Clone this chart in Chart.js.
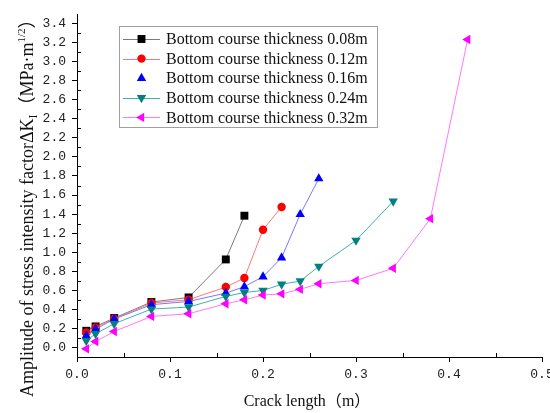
<!DOCTYPE html>
<html><head><meta charset="utf-8">
<script src="https://cdn.jsdelivr.net/npm/chart.js@4/dist/chart.umd.min.js"></script>
<style>html,body{margin:0;padding:0;background:#fff;}</style>
</head><body>
<canvas id="c" width="550" height="413" style="display:block;width:550px;height:413px"></canvas>
<script>
// ---- data ----
const seriesNames = [
  'Bottom course thickness 0.08m',
  'Bottom course thickness 0.12m',
  'Bottom course thickness 0.16m',
  'Bottom course thickness 0.24m',
  'Bottom course thickness 0.32m'
];
const x008 = [0.01,0.02,0.04,0.08,0.12,0.16,0.18];
const y008 = [0.175,0.221,0.309,0.477,0.525,0.924,1.383];
const x012 = [0.01,0.02,0.04,0.08,0.12,0.16,0.18,0.20,0.22];
const y012 = [0.158,0.210,0.301,0.466,0.501,0.634,0.729,1.236,1.475];
const x016 = [0.01,0.02,0.04,0.08,0.12,0.16,0.18,0.20,0.22,0.24,0.26];
const y016 = [0.123,0.193,0.298,0.449,0.483,0.571,0.638,0.743,0.942,1.397,1.772];
const x024 = [0.01,0.02,0.04,0.08,0.12,0.16,0.18,0.20,0.22,0.24,0.26,0.30,0.34];
const y024 = [0.070,0.144,0.249,0.403,0.424,0.536,0.577,0.598,0.663,0.697,0.851,1.124,1.534];
const x032 = [0.01,0.02,0.04,0.08,0.12,0.16,0.18,0.20,0.22,0.24,0.26,0.30,0.34,0.38,0.42];
const y032 = [-0.014,0.063,0.168,0.326,0.354,0.459,0.501,0.550,0.563,0.610,0.669,0.704,0.831,1.352,3.232];

const xTicks = [0,0.1,0.2,0.3,0.4,0.5];
const xMinorTicks = [0.05,0.15,0.25,0.35,0.45];
const yTicks = [0,0.2,0.4,0.6,0.8,1.0,1.2,1.4,1.6,1.8,2.0,2.2,2.4,2.6,2.8,3.0,3.2,3.4];
const yMinorTicks = [0.1,0.3,0.5,0.7,0.9,1.1,1.3,1.5,1.7,1.9,2.1,2.3,2.5,2.7,2.9,3.1,3.3];
const xTitle = 'Crack length（m）';

// ---- styles ----
const styles = [
  {line:'#7a7a7a', mark:'#000000', shape:'rect', rot:0, r:5.6, legendLine:true},
  {line:'#ff7878', mark:'#ff0000', shape:'circle', rot:0, r:4.2, legendLine:true},
  {line:'#7878ff', mark:'#0000ff', shape:'triangle', rot:0, r:5.4, legendLine:false},
  {line:'#40b0b0', mark:'#008080', shape:'triangle', rot:180, r:5.4, legendLine:true},
  {line:'#ff78ff', mark:'#ff00ff', shape:'triangle', rot:-90, r:5.4, legendLine:true}
];
const xs = [x008,x012,x016,x024,x032];
const ys = [y008,y012,y016,y024,y032];

const datasets = seriesNames.map((name,i)=>({
  label: name,
  data: xs[i].map((x,j)=>({x:x, y:ys[i][j]})),
  showLine: true,
  borderColor: styles[i].line,
  borderWidth: 1,
  backgroundColor: styles[i].mark,
  pointBackgroundColor: styles[i].mark,
  pointBorderColor: styles[i].mark,
  pointBorderWidth: 0,
  pointStyle: styles[i].shape,
  pointRotation: styles[i].rot,
  pointRadius: styles[i].r,
  pointHoverRadius: styles[i].r,
  order: 4 - i,
  tension: 0
}));

const SERIF = "'Liberation Serif','Times New Roman','Noto Sans CJK SC',serif";

const decor = {
  id: 'decor',
  afterDraw(chart){
    const ctx = chart.ctx;
    const xS = chart.scales.x, yS = chart.scales.y;
    const area = chart.chartArea;
    ctx.save();
    // minor ticks (inward)
    ctx.strokeStyle = '#000'; ctx.lineWidth = 1;
    ctx.beginPath();
    xMinorTicks.forEach(v=>{
      const px = Math.round(xS.getPixelForValue(v)) + 0.5;
      ctx.moveTo(px, area.bottom); ctx.lineTo(px, area.bottom - 4);
    });
    yMinorTicks.forEach(v=>{
      const py = Math.round(yS.getPixelForValue(v)) + 0.5;
      ctx.moveTo(area.left, py); ctx.lineTo(area.left + 4, py);
    });
    ctx.stroke();

    // x title
    ctx.fillStyle = '#111';
    ctx.font = '16px ' + SERIF;
    ctx.textAlign = 'center'; ctx.textBaseline = 'middle';
    ctx.fillText(xTitle, 307, 402);

    // y title (rotated, with sub/superscript)
    ctx.save();
    ctx.translate(33, 397);
    ctx.rotate(-Math.PI/2);
    ctx.textAlign = 'left'; ctx.textBaseline = 'alphabetic';
    const parts = [
      {t:'Amplitude of stress intensity factor', f:18, dy:0},
      {t:'ΔK', f:18, dy:0},
      {t:'I', f:12, dy:4},
      {t:'（MPa·m', f:18, dy:0},
      {t:'1/2', f:11, dy:-8},
      {t:'）', f:18, dy:0}
    ];
    let cx = 0;
    parts.forEach(p=>{
      ctx.font = p.f + 'px ' + SERIF;
      ctx.fillText(p.t, cx, p.dy);
      cx += ctx.measureText(p.t).width;
    });
    ctx.restore();

    // legend
    const L = {x0:119, y0:26, x1:377, y1:127};
    ctx.fillStyle = '#fff';
    ctx.fillRect(L.x0, L.y0, L.x1-L.x0, L.y1-L.y0);
    ctx.strokeStyle = '#a0a0a0'; ctx.lineWidth = 1;
    ctx.strokeRect(L.x0+0.5, L.y0+0.5, L.x1-L.x0, L.y1-L.y0);
    ctx.font = '16px ' + SERIF;
    ctx.textAlign = 'left'; ctx.textBaseline = 'middle';
    seriesNames.forEach((name,i)=>{
      const yy = 39 + i*19.6;
      const st = styles[i];
      if (st.legendLine){
        ctx.strokeStyle = st.line; ctx.lineWidth = 1;
        ctx.beginPath(); ctx.moveTo(123, Math.round(yy)+0.5); ctx.lineTo(160, Math.round(yy)+0.5); ctx.stroke();
      }
      ctx.fillStyle = st.mark; ctx.strokeStyle = st.mark;
      Chart.helpers.drawPoint(ctx, {pointStyle: st.shape, rotation: st.rot, radius: st.r, borderWidth: 0}, 141.5, yy);
      ctx.fillStyle = '#111';
      ctx.fillText(name, 166, yy + 1);
    });
    ctx.restore();
  }
};

new Chart(document.getElementById('c'), {
  type: 'scatter',
  data: { datasets },
  options: {
    responsive: false,
    animation: false,
    devicePixelRatio: 1,
    layout: { padding: { top: 14, right: 8, left: 0, bottom: 0 } },
    plugins: { legend: { display: false }, tooltip: { enabled: false }, title: { display: false } },
    scales: {
      x: {
        type: 'linear', min: 0, max: 0.5,
        afterBuildTicks: s => { s.ticks = xTicks.map(v=>({value:v})); },
        afterFit: s => { s.height = 56; s.paddingLeft = 0; s.paddingRight = 0; },
        grid: { display: true, drawOnChartArea: false, drawTicks: true, tickLength: 5, color: '#000' },
        border: { display: true, color: '#000', width: 1 },
        ticks: {
          color: '#222', padding: 5, maxRotation: 0, autoSkip: false,
          font: { family: "'Liberation Mono', monospace", size: 13 },
          callback: v => Number(v).toFixed(1)
        }
      },
      y: {
        type: 'linear', min: -0.1, max: 3.5,
        afterBuildTicks: s => { s.ticks = yTicks.map(v=>({value:v})); },
        afterFit: s => { s.width = 77; s.paddingTop = 0; s.paddingBottom = 0; },
        grid: { display: true, drawOnChartArea: false, drawTicks: true, tickLength: 5, color: '#000' },
        border: { display: true, color: '#000', width: 1 },
        ticks: {
          color: '#222', padding: 6, autoSkip: false,
          font: { family: "'Liberation Mono', monospace", size: 13 },
          callback: v => Number(v).toFixed(1)
        }
      }
    }
  },
  plugins: [decor]
});
</script>
</body></html>
